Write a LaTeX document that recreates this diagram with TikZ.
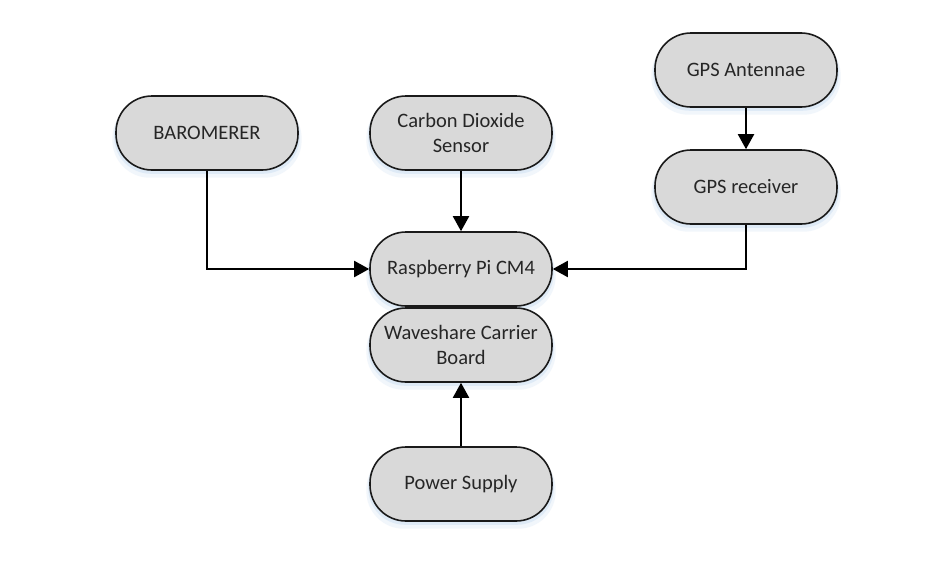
\documentclass[tikz,border=0pt]{standalone}
\usepackage{fontspec}
\setmainfont{Carlito}
\usetikzlibrary{arrows.meta,shadows}
\definecolor{boxfill}{HTML}{D9D9D9}
\definecolor{boxline}{HTML}{1A1A1A}
\definecolor{glow}{HTML}{C9DCF2}
\tikzset{
  blk/.style={draw=boxline, line width=1.6pt, fill=boxfill, rectangle,
    rounded corners=36pt, minimum width=182pt, minimum height=74pt,
    align=center, inner sep=2pt,
    font=\fontsize{20.5}{25}\selectfont, text=black!85,
    drop shadow={shadow xshift=0pt, shadow yshift=-6pt, shadow scale=1.04, fill=glow, opacity=0.25, draw=none},
    drop shadow={shadow xshift=0pt, shadow yshift=-3pt, shadow scale=1.02, fill=glow, opacity=0.45, draw=none}},
  conn/.style={draw=black, line width=2pt, -{Triangle[length=15pt,width=16pt]}},
}
\begin{document}
\begin{tikzpicture}[x=1pt,y=-1pt]
\useasboundingbox[fill=white] (0,0) rectangle (950,570);
\node[blk] (baro) at (207,133) {BAROMERER};
\node[blk] (co2) at (461,133) {Carbon Dioxide\\Sensor};
\node[blk] (ant) at (746,70) {GPS Antennae};
\node[blk] (rcv) at (746,187) {GPS receiver};
\node[blk] (rpi) at (461,269) {Raspberry Pi CM4};
\node[blk] (wave) at (461,345) {Waveshare Carrier\\Board};
\node[blk] (psu) at (461,484) {Power Supply};
\draw[conn] (baro.south) |- (rpi.west);
\draw[conn] (co2.south) -- (rpi.north);
\draw[conn] (ant.south) -- (rcv.north);
\draw[conn] (rcv.south) |- (rpi.east);
\draw[conn] (psu.north) -- (wave.south);
\end{tikzpicture}
\end{document}
